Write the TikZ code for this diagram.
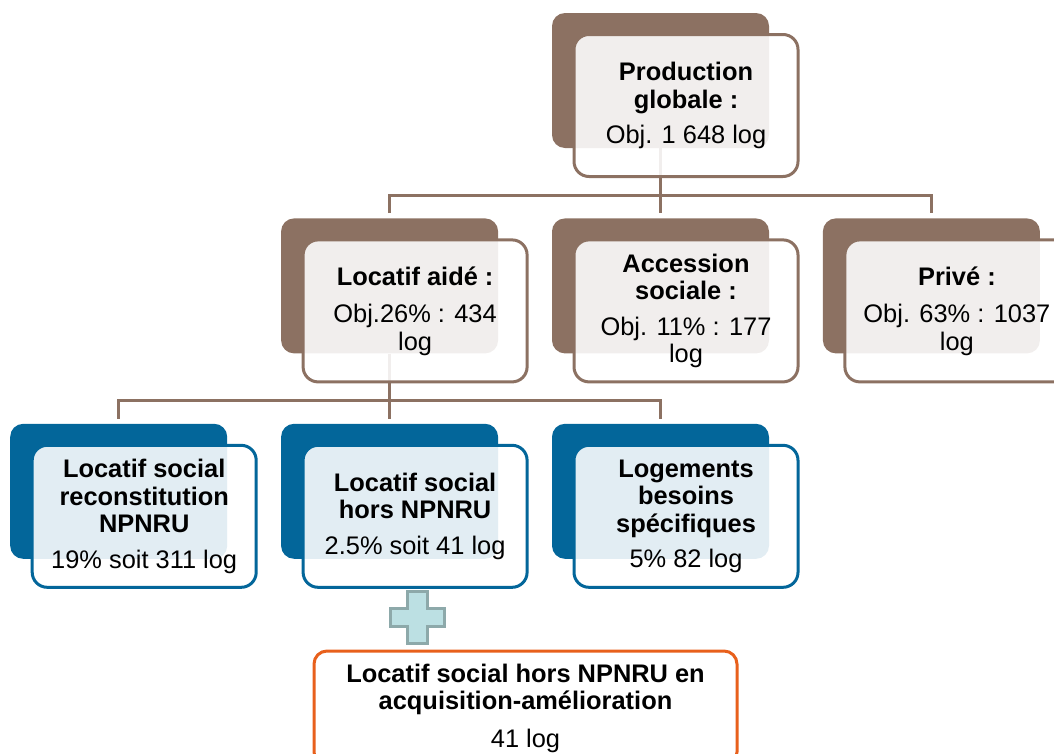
\documentclass[tikz,border=0pt]{standalone}
\usepackage{fontspec}
\setmainfont{Liberation Sans}
\usepackage{tikz}
\usetikzlibrary{positioning}
\definecolor{taupe}{HTML}{8C7162}
\definecolor{steel}{HTML}{03669A}
\definecolor{flame}{HTML}{E8601C}
\definecolor{mint}{HTML}{BCE0E3}
\definecolor{mintedge}{HTML}{8DA9AA}

\begin{document}
\begin{tikzpicture}[
  x=1pt, y=-1pt,
  node distance=70pt and 53.5pt,
  every node/.style={font=\fontsize{25.4}{27.5}\selectfont},
  back/.style={rectangle, rounded corners=13pt, inner sep=0pt,
               minimum width=217pt, minimum height=135pt},
  brownback/.style={back, fill=taupe},
  blueback/.style={back, fill=steel},
  front/.style={rectangle, rounded corners=15pt, line width=3pt, inner sep=0pt,
                fill=white, fill opacity=0.885, text opacity=1, draw opacity=1,
                minimum width=224pt, minimum height=142pt, align=center,
                shift={(25.5,25)}},
  brownfront/.style={front, draw=taupe},
  bluefront/.style={front, draw=steel},
  acqbox/.style={rectangle, rounded corners=13pt, line width=3pt, draw=flame,
                 fill=white, minimum width=423pt, minimum height=114pt,
                 align=center},
  plussign/.style={line width=3pt, draw=mintedge, fill=mint},
  link/.style={line width=3pt, color=taupe}
]
  \useasboundingbox (0,0) rectangle (1054,753);
  \clip (0,0) rectangle (1054,753);

  \node[brownback] (prodb) at (660.5,80.5) {};
  \node[brownback, below=of prodb] (accb) {};
  \node[brownback, left=of accb] (aideb) {};
  \node[brownback, right=of accb] (priveb) {};
  \node[blueback, below=of accb] (specb) {};
  \node[blueback, left=of specb] (horsb) {};
  \node[blueback, left=of horsb] (reconsb) {};

  \coordinate[below=47pt of prodb.south] (bus1);
  \coordinate[below=47pt of aideb.south] (bus2);
  \draw[link, shorten >=5pt] (prodb.south) -- (accb.north);
  \draw[link, shorten <=5pt, shorten >=5pt] (aideb.north) |- (bus1) -| (priveb.north);
  \draw[link, shorten >=5pt] (aideb.south) -- (horsb.north);
  \draw[link, shorten <=5pt, shorten >=5pt] (reconsb.north) |- (bus2) -| (specb.north);

  \node[brownfront] (prod) at (prodb) {\textbf{Production}\\\textbf{globale :}\\[8pt]Obj. 1 648 log};
  \node[brownfront] (aide) at (aideb) {\textbf{Locatif aidé :}\\[10pt]Obj.26\% : 434\\log};
  \node[brownfront] (acc) at (accb) {\textbf{Accession}\\\textbf{sociale :}\\[8pt]Obj. 11\% : 177\\log};
  \node[brownfront] (prive) at (priveb) {\textbf{Privé :}\\[10pt]Obj. 63\% : 1037\\log};
  \node[bluefront] (recons) at (reconsb) {\textbf{Locatif social}\\\textbf{reconstitution}\\\textbf{NPNRU}\\[8pt]19\% soit 311 log};
  \node[bluefront] (hors) at (horsb) {\textbf{Locatif social}\\\textbf{hors NPNRU}\\[8pt]2.5\% soit 41 log};
  \node[bluefront] (spec) at (specb) {\textbf{Logements}\\\textbf{besoins}\\\textbf{spécifiques}\\[8pt]5\% 82 log};

  \coordinate (plus) at (417,617);
  \draw[plussign] (plus) +(-10,-26) -- +(10,-26) -- +(10,-9) -- +(27,-9)
    -- +(27,9) -- +(10,9) -- +(10,26) -- +(-10,26) -- +(-10,9) -- +(-27,9)
    -- +(-27,-9) -- +(-10,-9) -- cycle;

  \node[acqbox] (acq) at (525.5,708) {\textbf{Locatif social hors NPNRU en}\\\textbf{acquisition-amélioration}\\[10pt]41 log};
\end{tikzpicture}
\end{document}
